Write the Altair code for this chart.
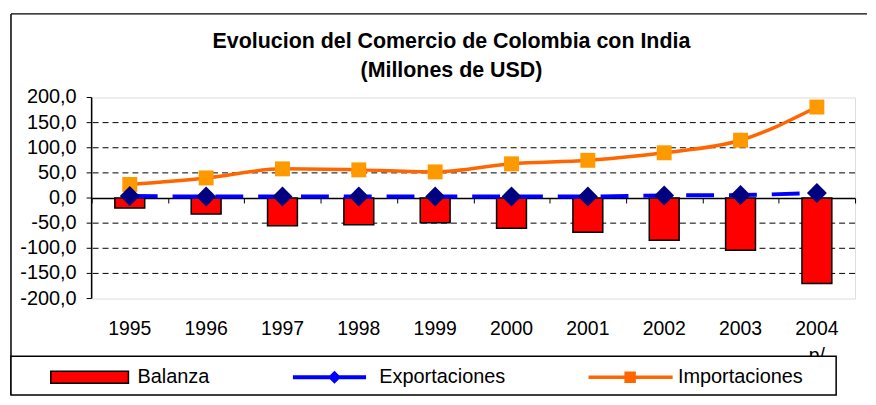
import altair as alt
import pandas as pd

years = ["1995", "1996", "1997", "1998", "1999", "2000", "2001", "2002", "2003", "2004"]
balanza = [-20, -32, -55, -53, -49, -60, -68, -84, -104, -170]
exportaciones = [4, 3, 3, 3, 3, 3, 3, 5, 6, 10]
importaciones = [27, 40, 58, 56, 52, 68, 75, 90, 115, 181]
series = ["Balanza", "Exportaciones", "Importaciones"]
y_ticks = [-200, -150, -100, -50, 0, 50, 100, 150, 200]
y_tick_labels = ["-200,0", "-150,0", "-100,0", "-50,0", "0,0", "50,0", "100,0", "150,0", "200,0"]
grid_values = [-150, -100, -50, 50, 100, 150]
title_lines = ["Evolucion del Comercio de Colombia con India", "(Millones de USD)"]

df = pd.DataFrame({"year": years, "Balanza": balanza,
                   "Exportaciones": exportaciones, "Importaciones": importaciones})
long = df.melt("year", var_name="serie", value_name="valor")
legend_df = pd.DataFrame({"serie": series})
grid_df = pd.DataFrame({"v": grid_values})
ytick_df = pd.DataFrame({"v": y_ticks, "lab": y_tick_labels})
one = pd.DataFrame({"k": [0]})

W, H = 767, 202
FONT = "Liberation Sans"

x_scale = alt.Scale(type="band", domain=years, paddingInner=0, paddingOuter=0)
y_scale = alt.Scale(domain=[-200, 200], nice=False)

x_axis_labels = alt.Axis(
    orient="bottom", title=None, labelFont=FONT, labelFontSize=19.5, labelColor="black",
    labelAngle=0, ticks=False, tickSize=0, domain=False, labelPadding=21,
    labelExpr="datum.value == '2004' ? ['2004', 'p/'] : datum.label", labelLineHeight=27,
)
x_axis_zero = alt.Axis(
    orient="bottom", offset=-101, title=None, labels=False, grid=False,
    domain=True, domainColor="black", domainWidth=1.5,
    ticks=True, tickBand="extent", tickSize=5, tickColor="black", tickWidth=1,
)

P_BAL = "M-1.1,-0.6H6.7V0.6H-1.1Z"
P_EXP = "M-1.0,-0.13H6.2V0.13H-1.0Z M2.55,0L3.1,-0.55L3.65,0L3.1,0.55Z"
P_IMP = "M-1.3,-0.1H7.0V0.1H-1.3Z M2.3,-0.5H3.3V0.5H2.3Z"

legend = alt.Legend(
    title=None, orient="none", legendX=-41, legendY=270, direction="horizontal", columns=3,
    padding=0, symbolSize=400, symbolStrokeWidth=1.5, labelFont=FONT, labelFontSize=20,
    labelColor="black", labelOffset=65, columnPadding=81, symbolOpacity=1,
)

frame_top = alt.Chart(one).mark_rule(color="black", strokeWidth=1.5).encode(
    x=alt.value(-81), x2=alt.value(779), y=alt.value(-84))
frame_left = alt.Chart(one).mark_rule(color="black", strokeWidth=1.5).encode(
    x=alt.value(-81), y=alt.value(-84), y2=alt.value(299))

grid = alt.Chart(grid_df).mark_rule(color="black", strokeWidth=1, strokeDash=[6, 4]).encode(
    y=alt.Y("v:Q", scale=y_scale, axis=None),
)

# y axis: domain line, ticks and labels positioned through the y scale
y_domain = alt.Chart(one).mark_rule(color="black", strokeWidth=1.5).encode(
    x=alt.value(0), y=alt.value(0), y2=alt.value(H))
y_tickmarks = alt.Chart(ytick_df).mark_rule(color="black", strokeWidth=1).encode(
    y=alt.Y("v:Q", scale=y_scale, axis=None), x=alt.value(-5), x2=alt.value(0))
y_labels = alt.Chart(ytick_df).mark_text(
    align="right", baseline="middle", font=FONT, fontSize=20, color="black", dx=-15).encode(
    y=alt.Y("v:Q", scale=y_scale, axis=None), x=alt.value(0), text="lab:N")

bars = alt.Chart(long).transform_filter("datum.serie == 'Balanza'").mark_bar(
    size=30, color="#FF0000", stroke="black", strokeWidth=1.5).encode(
    x=alt.X("year:N", scale=x_scale, axis=x_axis_labels),
    y=alt.Y("valor:Q", scale=y_scale, axis=None),
    y2=alt.datum(0),
)

imp_line = alt.Chart(long).transform_filter("datum.serie == 'Importaciones'").mark_line(
    color="#FF6600", strokeWidth=3.5, interpolate="monotone").encode(
    x=alt.X("year:N", scale=x_scale, axis=x_axis_zero),
    y=alt.Y("valor:Q", scale=y_scale, axis=None),
)
exp_line = alt.Chart(long).transform_filter("datum.serie == 'Exportaciones'").mark_line(
    color="#0000FF", strokeWidth=4, strokeDash=[28, 15], interpolate="monotone").encode(
    x=alt.X("year:N", scale=x_scale, axis=None),
    y=alt.Y("valor:Q", scale=y_scale, axis=None),
)
imp_pts = alt.Chart(long).transform_filter("datum.serie == 'Importaciones'").mark_point(
    filled=True, shape="square", size=225, color="#FF9900", opacity=1).encode(
    x=alt.X("year:N", scale=x_scale, axis=None),
    y=alt.Y("valor:Q", scale=y_scale, axis=None),
)
exp_pts = alt.Chart(long).transform_filter("datum.serie == 'Exportaciones'").mark_point(
    filled=True, shape="diamond", size=400, color="#000080", opacity=1).encode(
    x=alt.X("year:N", scale=x_scale, axis=None),
    y=alt.Y("valor:Q", scale=y_scale, axis=None),
)

# legend carrier: zero-size symbols, only their legend is visible
legend_layer = alt.Chart(legend_df).mark_point(filled=True, opacity=1).encode(
    x=alt.value(0), y=alt.value(0), size=alt.value(0),
    fill=alt.Fill("serie:N", scale=alt.Scale(domain=series, range=["#FF0000", "#0000FF", "#FF6600"]),
                  legend=legend),
    stroke=alt.Stroke("serie:N", scale=alt.Scale(domain=series, range=["black", "#0000FF", "#FF6600"]),
                      legend=legend),
    shape=alt.Shape("serie:N", scale=alt.Scale(domain=series, range=[P_BAL, P_EXP, P_IMP]),
                    legend=legend),
)

legend_box = alt.Chart(one).mark_rect(fill="white", stroke="black", strokeWidth=1.5).encode(
    x=alt.value(-81), x2=alt.value(748), y=alt.value(260), y2=alt.value(299))

chart = alt.layer(
    frame_top, frame_left, grid, bars, imp_line, exp_line, imp_pts, exp_pts,
    y_domain, y_tickmarks, y_labels, legend_box, legend_layer
).resolve_axis(x="independent").properties(
    width=W, height=H,
    padding={"left": 2, "top": 4, "right": 0, "bottom": 0},
    title=alt.Title(title_lines, font=FONT, fontSize=21.5, fontWeight="bold", color="black",
                    anchor="middle", frame="group", dx=-22, offset=-69, lineHeight=29),
).configure_view(stroke="#808080", strokeWidth=2).configure(background="white")

chart.save("out.html", embed_options={"renderer": "svg", "actions": False})
